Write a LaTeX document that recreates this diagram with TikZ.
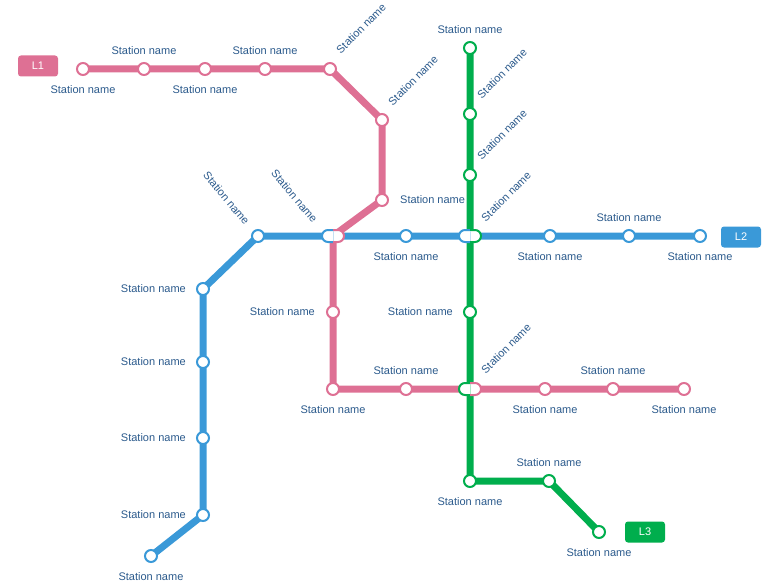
\documentclass[tikz,border=0pt]{standalone}
\usepackage{fontspec}
\setmainfont{Liberation Sans}
\usetikzlibrary{positioning,calc,backgrounds}
\definecolor{lineone}{HTML}{DE7094}
\definecolor{linetwo}{HTML}{3A99D8}
\definecolor{linethree}{HTML}{00AE4D}
\definecolor{namecol}{HTML}{2B5A8C}
\tikzset{
  stn/.style={circle,draw=#1,line width=2pt,fill=white,minimum size=12pt,inner sep=0pt},
  lbl/.style={text=namecol,font=\fontsize{11}{13}\selectfont,inner sep=1pt},
  track/.style={line width=7pt,line join=round,draw=#1},
  linebox/.style={fill=#1,rounded corners=3pt,minimum width=40pt,minimum height=21pt,
    inner sep=0pt,text=white,font=\fontsize{11}{13}\selectfont},
  xbox/.style={rectangle,minimum width=24pt,minimum height=14pt,inner sep=0pt},
  up/.style={lbl,rotate=45,anchor=south west},
  down/.style={lbl,rotate=-50,anchor=east}
}
\newcommand{\xfer}[4]{% name, position, left colour, right colour
  \node[xbox] (#1) at (#2) {};
  \draw[#3,line width=2pt,fill=white] ($(#1.center)+(0,-6)$) -- ++(-5,0)
    arc[start angle=90,end angle=270,radius=6pt] -- ++(5,0);
  \draw[#4,line width=2pt,fill=white] ($(#1.center)+(0,-6)$) -- ++(5,0)
    arc[start angle=90,end angle=-90,radius=6pt] -- ++(-5,0);
  \draw[#3!30,line width=0.8pt] ($(#1.center)+(0,-5)$) -- ($(#1.center)+(0,5)$);
}

\begin{document}
\begin{tikzpicture}[x=1pt,y=-1pt]
\useasboundingbox (0,0) rectangle (774,586);

% L1
\node[stn=lineone] (p1) at (83,69) {};
\node[stn=lineone] (p2) at (144,69) {};
\node[stn=lineone] (p3) at (205,69) {};
\node[stn=lineone] (p4) at (265,69) {};
\node[stn=lineone] (p5) at (330,69) {};
\node[stn=lineone] (p6) at (382,120) {};
\node[stn=lineone] (p7) at (382,200) {};
\node[stn=lineone] (p9) at (333,312) {};
\node[stn=lineone] (p10) at (333,389) {};
\node[stn=lineone] (p11) at (406,389) {};
\node[stn=lineone] (p13) at (545,389) {};
\node[stn=lineone] (p14) at (613,389) {};
\node[stn=lineone] (p15) at (684,389) {};
% L2
\node[stn=linetwo] (b1) at (151,556) {};
\node[stn=linetwo] (b2) at (203,515) {};
\node[stn=linetwo] (b3) at (203,438) {};
\node[stn=linetwo] (b4) at (203,362) {};
\node[stn=linetwo] (b5) at (203,289) {};
\node[stn=linetwo] (b6) at (258,236) {};
\node[stn=linetwo] (b8) at (406,236) {};
\node[stn=linetwo] (b10) at (550,236) {};
\node[stn=linetwo] (b11) at (629,236) {};
\node[stn=linetwo] (b12) at (700,236) {};
% L3
\node[stn=linethree] (g1) at (470,48) {};
\node[stn=linethree] (g2) at (470,114) {};
\node[stn=linethree] (g3) at (470,175) {};
\node[stn=linethree] (g5) at (470,312) {};
\node[stn=linethree] (g7) at (470,481) {};
\node[stn=linethree] (g8) at (549,481) {};
\node[stn=linethree] (g9) at (599,532) {};

\xfer{xa}{333,236}{linetwo}{lineone}
\xfer{xb}{470,236}{linetwo}{linethree}
\xfer{xc}{470,389}{linethree}{lineone}

\begin{scope}[on background layer]
\draw[track=lineone] (p1.center) -- (p2.center) -- (p3.center) -- (p4.center) -- (p5.center)
  -- (p6.center) -- (p7.center) -- (xa.center) -- (p9.center) -- (p10.center) -- (p11.center)
  -- (xc.center) -- (p13.center) -- (p14.center) -- (p15.center);
\draw[track=linetwo] (b1.center) -- (b2.center) -- (b3.center) -- (b4.center) -- (b5.center)
  -- (b6.center) -- (xa.center) -- (b8.center) -- (xb.center) -- (b10.center) -- (b11.center)
  -- (b12.center);
\draw[track=linethree] (g1.center) -- (g2.center) -- (g3.center) -- (xb.center) -- (g5.center)
  -- (xc.center) -- (g7.center) -- (g8.center) -- (g9.center);
\end{scope}

\node[linebox=lineone] (l1) at (38,66) {L1};
\node[linebox=linetwo] (l2) at (741,237) {L2};
\node[linebox=linethree] (l3) at (645,532) {L3};

% station names
\node[lbl,below=8pt of p1] (p1n) {Station name};
\node[lbl,above=6pt of p2] (p2n) {Station name};
\node[lbl,below=8pt of p3] (p3n) {Station name};
\node[lbl,above=6pt of p4] (p4n) {Station name};
\node[up] (p5n) at ($(p5)+(11,-13)$) {Station name};
\node[up] (p6n) at ($(p6)+(11,-12)$) {Station name};
\node[lbl,right=10pt of p7] (p7n) {Station name};
\node[down] (xan) at ($(xa)+(-17,-14)$) {Station name};
\node[lbl,left=10pt of p9] (p9n) {Station name};
\node[lbl,below=8pt of p10] (p10n) {Station name};
\node[lbl,above=6pt of p11] (p11n) {Station name};
\node[up] (xcn) at ($(xc)+(16,-13)$) {Station name};
\node[lbl,below=8pt of p13] (p13n) {Station name};
\node[lbl,above=6pt of p14] (p14n) {Station name};
\node[lbl,below=8pt of p15] (p15n) {Station name};

\node[lbl,below=8pt of b1] (b1n) {Station name};
\node[lbl,left=9pt of b2] (b2n) {Station name};
\node[lbl,left=9pt of b3] (b3n) {Station name};
\node[lbl,left=9pt of b4] (b4n) {Station name};
\node[lbl,left=9pt of b5] (b5n) {Station name};
\node[down] (b6n) at ($(b6)+(-10,-12)$) {Station name};
\node[lbl,below=8pt of b8] (b8n) {Station name};
\node[up] (xbn) at ($(xb)+(16,-12)$) {Station name};
\node[lbl,below=8pt of b10] (b10n) {Station name};
\node[lbl,above=6pt of b11] (b11n) {Station name};
\node[lbl,below=8pt of b12] (b12n) {Station name};

\node[lbl,above=6pt of g1] (g1n) {Station name};
\node[up] (g2n) at ($(g2)+(12,-13)$) {Station name};
\node[up] (g3n) at ($(g3)+(12,-13)$) {Station name};
\node[lbl,left=9pt of g5] (g5n) {Station name};
\node[lbl,below=8pt of g7] (g7n) {Station name};
\node[lbl,above=6pt of g8] (g8n) {Station name};
\node[lbl,below=8pt of g9] (g9n) {Station name};
\end{tikzpicture}
\end{document}
